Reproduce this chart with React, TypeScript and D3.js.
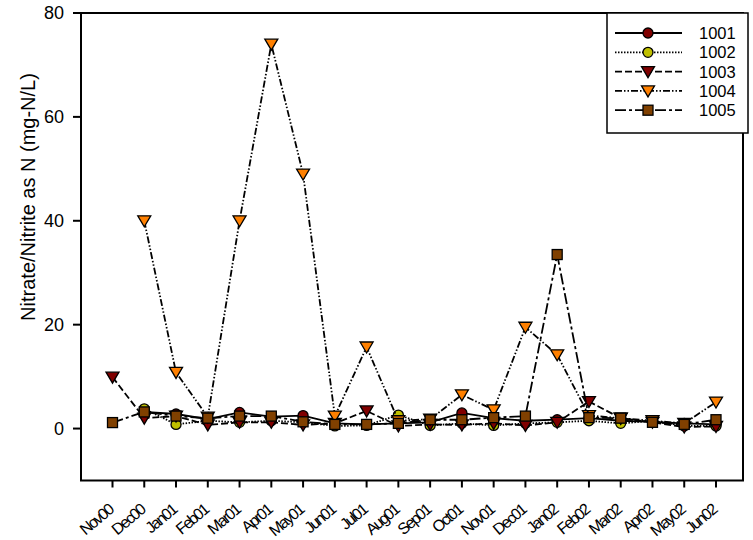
import React from 'react';
import * as d3 from 'd3';

const months = [
  'Nov00', 'Dec00', 'Jan01', 'Feb01', 'Mar01', 'Apr01', 'May01', 'Jun01', 'Jul01', 'Aug01',
  'Sep01', 'Oct01', 'Nov01', 'Dec01', 'Jan02', 'Feb02', 'Mar02', 'Apr02', 'May02', 'Jun02',
];

const s1001 = [null, 3.2, 2.8, 1.8, 3.1, 2.3, 2.5, 1.0, 0.8, 1.0, 1.2, 3.0, 2.0, 1.5, 1.7, 2.0, 1.5, 1.3, 1.0, 0.8];
const s1002 = [null, 3.8, 0.8, 1.5, 1.2, 1.5, 1.2, 0.5, 0.6, 2.6, 0.6, 1.0, 0.6, 1.0, 1.2, 1.5, 1.0, 1.5, 0.5, 0.5];
const s1003 = [9.9, 2.0, 2.4, 0.7, 1.2, 1.2, 0.7, 1.0, 3.4, 0.5, 0.8, 0.7, 1.0, 0.6, 1.2, 5.2, 2.0, 1.2, 0.3, 0.4];
const s1004 = [null, 40, 10.8, 2.2, 40, 74, 49, 2.4, 15.7, 1.5, 1.8, 6.5, 3.6, 19.5, 14.2, 2.5, 2.0, 1.5, 1.0, 5.1];
const s1005 = [1.15, 3.2, 2.4, 2.0, 2.4, 2.4, 1.3, 0.8, 0.8, 1.0, 1.7, 1.7, 2.1, 2.4, 33.5, 2.1, 2.0, 1.2, 0.8, 1.7];

const yTicks = [0, 20, 40, 60, 80];

const series = [
  { name: '1001', values: s1001, color: '#800000', symbol: 'circle', dash: '' },
  { name: '1002', values: s1002, color: '#c0c000', symbol: 'circle', dash: '1.5 1.5' },
  { name: '1003', values: s1003, color: '#800000', symbol: 'triangle', dash: '7 3' },
  { name: '1004', values: s1004, color: '#ff8000', symbol: 'triangle', dash: '7 2 1.5 2 1.5 2' },
  { name: '1005', values: s1005, color: '#804000', symbol: 'square', dash: '11 3 3 3' },
];

const W = 753;
const H = 540;
const left = 81;
const right = 743;
const top = 13;
const bottom = 480.5;

const font = 'Arial, "Liberation Sans", sans-serif';

// marker shapes centred on x,y
const Marker = ({ symbol, color, x, y }: { symbol: string; color: string; x: number; y: number }) => {
  if (symbol === 'circle') {
    return <circle cx={x} cy={y} r={5} fill={color} stroke="#000" strokeWidth={1.3} />;
  }
  if (symbol === 'triangle') {
    const p = `${x - 6.5},${y - 5} ${x + 6.5},${y - 5} ${x},${y + 6}`;
    return <polygon points={p} fill={color} stroke="#000" strokeWidth={1.3} />;
  }
  return <rect x={x - 5} y={y - 5} width={10} height={10} fill={color} stroke="#000" strokeWidth={1.3} />;
};

export default function App() {
  const x = d3.scalePoint<string>().domain(months).range([112.5, 716]);
  const y = d3.scaleLinear().domain([-10, 80]).range([bottom, top]);

  const line = d3
    .line<number | null>()
    .defined((d) => d !== null)
    .x((d, i) => x(months[i]) as number)
    .y((d) => y(d as number));

  return (
    <svg width={W} height={H} style={{ position: 'absolute', left: 0, top: 0 }}>
      <rect width={W} height={H} fill="#fff" />
      {series.map((s) => (
        <g key={s.name}>
          <path d={line(s.values) || ''} fill="none" stroke="#000" strokeWidth={1.8} strokeDasharray={s.dash} />
          {s.values.map((v, i) =>
            v === null ? null : (
              <Marker key={i} symbol={s.symbol} color={s.color} x={x(months[i]) as number} y={y(v)} />
            )
          )}
        </g>
      ))}

      {/* frame */}
      <rect x={left} y={top} width={right - left} height={bottom - top} fill="none" stroke="#000" strokeWidth={2} />

      {/* y axis */}
      {yTicks.map((t) => (
        <g key={t}>
          <line x1={left - 8} x2={left} y1={y(t)} y2={y(t)} stroke="#000" strokeWidth={2} />
          <text x={left - 17} y={y(t)} dy="0.36em" textAnchor="end" fontFamily={font} fontSize={18}>
            {t}
          </text>
        </g>
      ))}
      <text
        transform={`translate(35,197) rotate(-90)`}
        textAnchor="middle"
        fontFamily={font}
        fontSize={20}
      >
        Nitrate/Nitrite as N (mg-N/L)
      </text>

      {/* x axis */}
      {months.map((m) => {
        const xx = x(m) as number;
        return (
          <g key={m}>
            <line x1={xx} x2={xx} y1={bottom} y2={bottom + 7} stroke="#000" strokeWidth={2} />
            <text
              transform={`translate(${xx - 2},${bottom + 27}) rotate(-40)`}
              textAnchor="end"
              dy="0.35em"
              fontFamily={font}
              fontSize={16}
              letterSpacing={-1.8}
            >
              {m}
            </text>
          </g>
        );
      })}

      {/* legend */}
      <rect x={607} y={13} width={141} height={120} fill="#fff" stroke="#000" strokeWidth={1.5} />
      {series.map((s, i) => {
        const ly = 33 + i * 19.3;
        return (
          <g key={s.name}>
            <line x1={615} x2={682} y1={ly} y2={ly} stroke="#000" strokeWidth={1.8} strokeDasharray={s.dash} />
            <Marker symbol={s.symbol} color={s.color} x={648} y={ly} />
            <text x={699} y={ly} dy="0.36em" fontFamily={font} fontSize={16.5}>
              {s.name}
            </text>
          </g>
        );
      })}
    </svg>
  );
}
